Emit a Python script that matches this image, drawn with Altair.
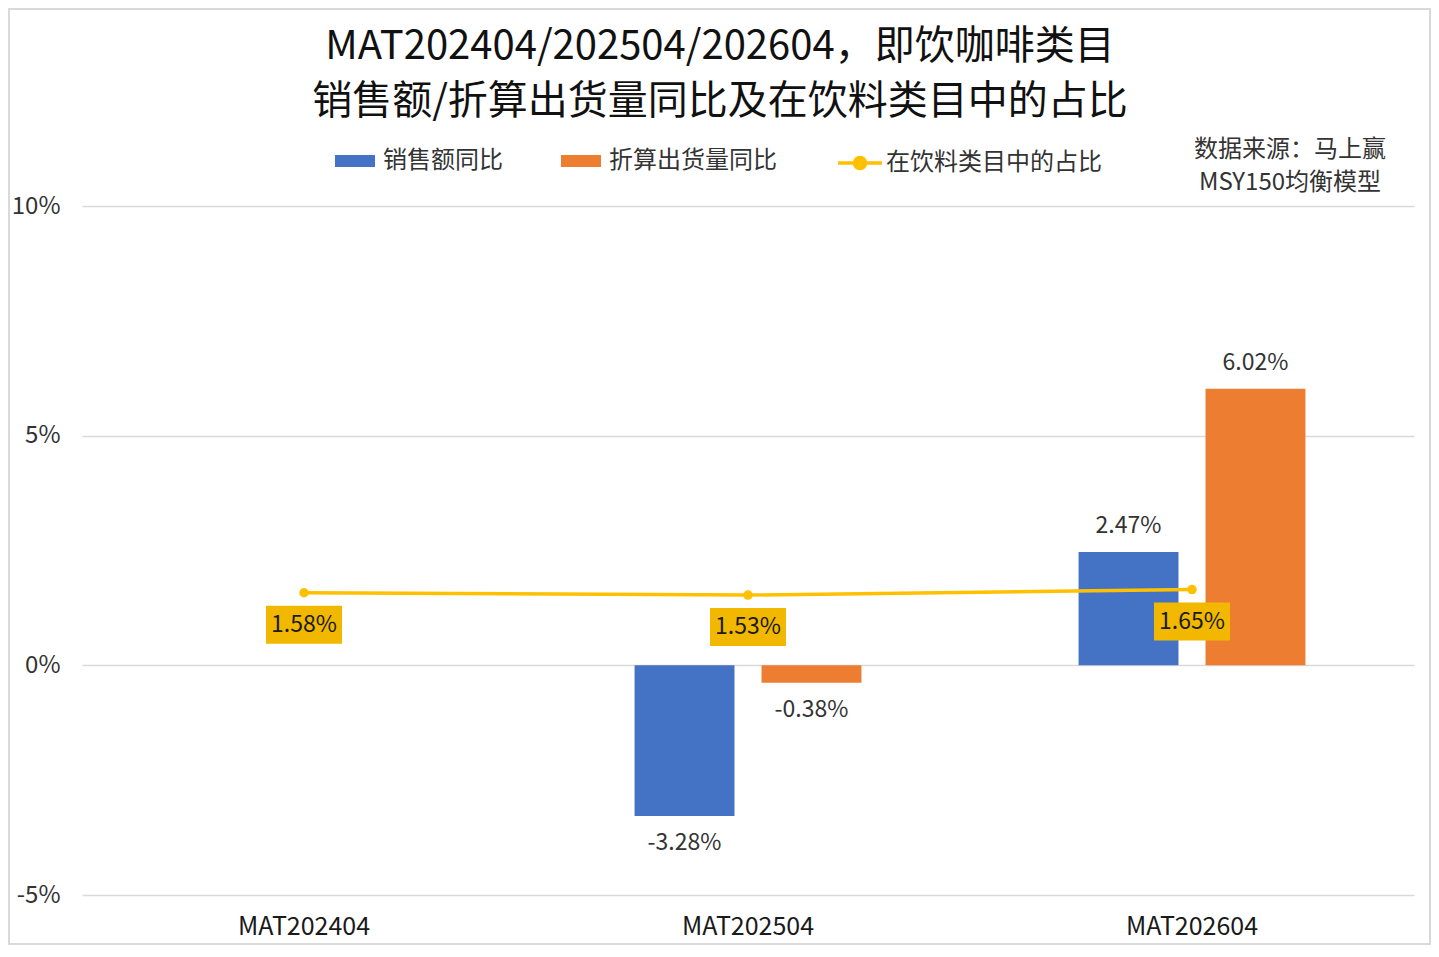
import altair as alt
import pandas as pd

categories = ["MAT202404", "MAT202504", "MAT202604"]
sales_yoy = [None, -3.28, 2.47]
volume_yoy = [None, -0.38, 6.02]
share = [1.58, 1.53, 1.65]
bar_series = ["销售额同比", "折算出货量同比"]
line_series = "在饮料类目中的占比"
title_lines = ["MAT202404/202504/202604，即饮咖啡类目", "销售额/折算出货量同比及在饮料类目中的占比"]
source_lines = ["数据来源：马上赢", "MSY150均衡模型"]
y_ticks = [-5, 0, 5, 10]

FONT = "Noto Sans CJK SC"
BLUE = "#4472C4"
ORANGE = "#ED7D31"
YELLOW = "#FFC000"
BOX = "#F2B800"

W, H = 1332, 689
PAD = {"left": 74, "top": 198, "right": 17, "bottom": 50}

rows = []
for cat, s, v in zip(categories, sales_yoy, volume_yoy):
    if s is not None:
        rows.append({"cat": cat, "series": bar_series[0], "value": s})
    if v is not None:
        rows.append({"cat": cat, "series": bar_series[1], "value": v})
bars_df = pd.DataFrame(rows)
bars_df["label"] = bars_df["value"].map(lambda x: f"{x:.2f}%")

line_df = pd.DataFrame({"cat": categories, "value": share, "series": [line_series] * 3})
line_df["label"] = line_df["value"].map(lambda x: f"{x:.2f}%")

x_enc = alt.X("cat:N", sort=categories,
              scale=alt.Scale(paddingInner=0.489, paddingOuter=0.2445),
              axis=alt.Axis(title=None, labelAngle=0, ticks=False, domain=False,
                            labelFont=FONT, labelFontSize=25, labelColor="#1a1a1a",
                            labelPadding=19))
y_scale = alt.Scale(domain=[-5, 10], nice=False)
xoff = alt.XOffset("series:N", sort=bar_series,
                   scale=alt.Scale(paddingInner=0.213, paddingOuter=0))

base_bars = alt.Chart(bars_df)

bars = base_bars.mark_bar().encode(
    x=x_enc,
    xOffset=xoff,
    y=alt.Y("value:Q", scale=y_scale,
            axis=alt.Axis(title=None, values=y_ticks, labelExpr="datum.value + '%'",
                          ticks=False, domain=False, grid=True, gridColor="#d9d9d9",
                          gridWidth=1.5, labelFont=FONT, labelFontSize=24,
                          labelColor="#333333", labelPadding=22)),
    fill=alt.Fill("series:N", sort=bar_series,
                  scale=alt.Scale(domain=bar_series, range=[BLUE, ORANGE]),
                  legend=alt.Legend(title=None, orient="none", direction="horizontal",
                                    legendX=253, legendY=-65,
                                    symbolType="M-1,-0.3H1V0.3H-1Z", symbolSize=1600,
                                    symbolStrokeWidth=0, labelLimit=0,
                                    labelFont=FONT, labelFontSize=24, labelColor="#333333",
                                    labelOffset=8, columnPadding=58)),
)

pos_labels = base_bars.transform_filter("datum.value >= 0").mark_text(
    dy=-26, font=FONT, fontSize=23, color="#333333").encode(
    x=alt.X("cat:N", sort=categories), xOffset=xoff,
    y=alt.Y("value:Q", scale=y_scale), text="label:N")

neg_labels = base_bars.transform_filter("datum.value < 0").mark_text(
    dy=27, font=FONT, fontSize=23, color="#333333").encode(
    x=alt.X("cat:N", sort=categories), xOffset=xoff,
    y=alt.Y("value:Q", scale=y_scale), text="label:N")

base_line = alt.Chart(line_df)

line = base_line.mark_line(strokeWidth=3.5).encode(
    x=alt.X("cat:N", sort=categories),
    y=alt.Y("value:Q", scale=y_scale),
    stroke=alt.Stroke("series:N",
                      scale=alt.Scale(domain=[line_series], range=[YELLOW]),
                      legend=alt.Legend(title=None, orient="none", direction="horizontal",
                                        legendX=754, legendY=-67, labelLimit=0,
                                        symbolType="M-1,0H1M0.25,0A0.25,0.25 0 1 1 -0.25,0A0.25,0.25 0 1 1 0.25,0",
                                        symbolSize=1936, symbolStrokeWidth=3.5,
                                        symbolFillColor=YELLOW,
                                        labelFont=FONT, labelFontSize=24,
                                        labelColor="#333333", labelOffset=2)),
)

dots = base_line.mark_circle(size=90, opacity=1, color=YELLOW).encode(
    x=alt.X("cat:N", sort=categories),
    y=alt.Y("value:Q", scale=y_scale),
)

boxes = base_line.mark_point(shape="M-1,-0.5H1V0.5H-1Z", size=5776, filled=True,
                             opacity=1, color=BOX, yOffset=32).encode(
    x=alt.X("cat:N", sort=categories),
    y=alt.Y("value:Q", scale=y_scale),
)

box_text = base_line.mark_text(font=FONT, fontSize=23, color="#1a1a1a", dy=32).encode(
    x=alt.X("cat:N", sort=categories),
    y=alt.Y("value:Q", scale=y_scale),
    text="label:N",
)

source = alt.Chart(pd.DataFrame({"t": [source_lines]})).mark_text(
    font=FONT, fontSize=24, color="#333333", align="center", baseline="middle",
    lineHeight=33).encode(
    x=alt.value(1208), y=alt.value(-56), text="t")

frame = alt.Chart(pd.DataFrame({"k": [0]})).mark_rect(
    fill=None, stroke="#d9d9d9", strokeWidth=2).encode(
    x=alt.value(-PAD["left"] + 1), x2=alt.value(W + PAD["right"] - 1),
    y=alt.value(-PAD["top"] + 1), y2=alt.value(H + PAD["bottom"] - 1))

chart = alt.layer(frame, bars, pos_labels, neg_labels, line, dots, boxes, box_text, source).resolve_scale(
    fill="independent", stroke="independent"
).properties(
    width=W, height=H,
    autosize=alt.AutoSizeParams(type="none"),
    padding=PAD,
    title=alt.TitleParams(text=title_lines, font=FONT, fontSize=40, lineHeight=55,
                          fontWeight="normal", color="#111111", anchor="middle",
                          offset=-114, dx=-28),
    background="white",
).configure_view(stroke=None)

chart.save("out.html", embed_options={"renderer": "svg", "actions": False})
